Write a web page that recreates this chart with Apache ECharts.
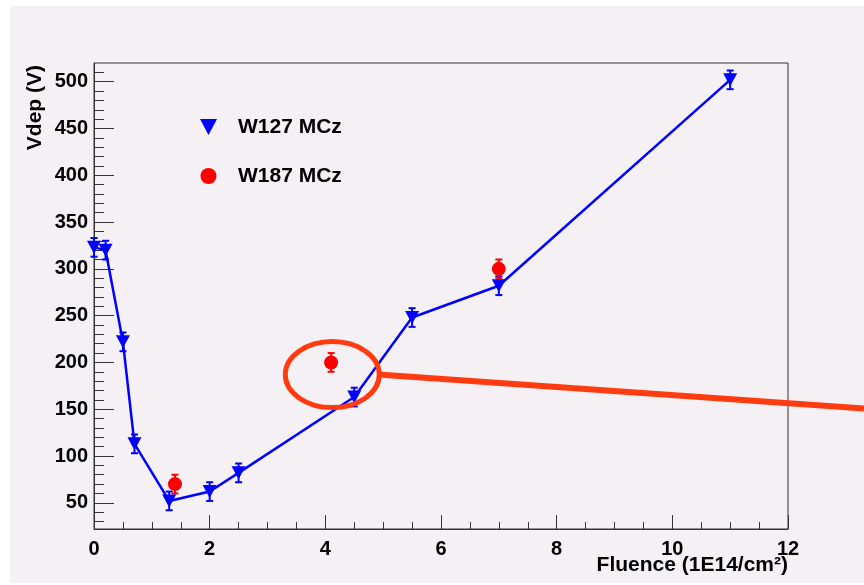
<!DOCTYPE html>
<html>
<head>
<meta charset="utf-8">
<script src="https://cdn.jsdelivr.net/npm/echarts@6/dist/echarts.min.js"></script>
<style>
html,body{margin:0;padding:0;background:#ffffff;}
#chart{width:864px;height:585px;}
</style>
</head>
<body>
<div id="chart"></div>
<script>
// ---- data ----
const w127X = [0, 0.2, 0.5, 0.7, 1.3, 2.0, 2.5, 4.5, 5.5, 7.0, 11.0];
const w127Y = [323, 320, 222, 113, 52, 62, 82, 163, 248, 282, 502];
const w127Err = [10, 10, 10, 10, 10, 10, 10, 10, 10, 10, 10];
const w187X = [1.4, 4.1, 7.0];
const w187Y = [70, 200, 300];
const w187Err = [10, 10, 10];
const yMajorTicks = [50, 100, 150, 200, 250, 300, 350, 400, 450, 500];
const yMinorTicks = [30, 40, 60, 70, 80, 90, 110, 120, 130, 140, 160, 170, 180, 190, 210, 220, 230, 240, 260, 270, 280, 290, 310, 320, 330, 340, 360, 370, 380, 390, 410, 420, 430, 440, 460, 470, 480, 490, 510];
const seriesNames = ['W127 MCz', 'W187 MCz'];
const xTitle = 'Fluence (1E14/cm\u00B2)';
const yTitle = 'Vdep (V)';
const annotCenter = [4.12, 187]; // data coords of the highlighted region

const FONT = "'Liberation Sans', Arial, Helvetica, sans-serif";
const BLUE = '#0000ff', RED = '#ff0000', FRAME = '#333333', ANNOT = '#ff3b0f';
const TITLE_SIZE = 21;

function pts(xs, ys) { return xs.map((x, i) => [x, ys[i]]); }
function errs(xs, ys, es) { return xs.map((x, i) => [x, ys[i] - es[i], ys[i] + es[i]]); }
function textWidth(str, size) {
  const ctx = document.createElement('canvas').getContext('2d');
  ctx.font = 'bold ' + size + 'px ' + FONT;
  return ctx.measureText(str).width;
}

function errRenderer(color) {
  return function (params, api) {
    const x = api.value(0), lo = api.value(1), hi = api.value(2);
    const p1 = api.coord([x, lo]), p2 = api.coord([x, hi]);
    const cw = 3.5;
    const st = { stroke: color, lineWidth: 2 };
    return {
      type: 'group',
      children: [
        { type: 'line', shape: { x1: p1[0], y1: p1[1], x2: p2[0], y2: p2[1] }, style: st },
        { type: 'line', shape: { x1: p1[0] - cw, y1: p1[1], x2: p1[0] + cw, y2: p1[1] }, style: st },
        { type: 'line', shape: { x1: p2[0] - cw, y1: p2[1], x2: p2[0] + cw, y2: p2[1] }, style: st }
      ]
    };
  };
}

const chart = echarts.init(document.getElementById('chart'), null, { renderer: 'canvas' });

const GRID_W = 864 - 94 - 76;
const xTitleW = textWidth(xTitle, TITLE_SIZE);
const yTitleW = textWidth(yTitle, TITLE_SIZE);

const option = {
  animation: false,
  backgroundColor: 'transparent',
  textStyle: { fontFamily: FONT },
  graphic: [
    { type: 'rect', id: 'bg', z: -100, silent: true,
      shape: { x: 10, y: 6, width: 854, height: 577 }, style: { fill: '#f4f0f4' } }
  ],
  grid: { left: 94, top: 63, right: 76, bottom: 56, show: true, containLabel: false,
          outerBoundsMode: 'none',
          borderColor: FRAME, borderWidth: 1, backgroundColor: 'transparent' },
  legend: {
    left: 200, top: 116, orient: 'vertical', padding: 0,
    itemWidth: 17, itemHeight: 16, itemGap: 27,
    data: [
      { name: seriesNames[0], icon: 'path://M0,0L10,0L5,9.4Z' },
      { name: seriesNames[1], icon: 'circle' }
    ],
    textStyle: { fontFamily: FONT, fontWeight: 'bold', fontSize: 21, color: '#000',
                 lineHeight: 22, padding: [0, 0, 0, 16] }
  },
  xAxis: {
    type: 'value', min: 0, max: 12, interval: 2,
    name: xTitle, nameLocation: 'end', nameGap: -xTitleW, nameMoveOverlap: false,
    nameTextStyle: { fontFamily: FONT, fontWeight: 'bold', fontSize: TITLE_SIZE, color: '#000',
                     verticalAlign: 'top', lineHeight: 21, padding: [26, 0, 0, 0] },
    axisLine: { show: true, lineStyle: { color: FRAME, width: 1 } },
    axisTick: { show: true, inside: true, length: 14, lineStyle: { color: FRAME, width: 1 } },
    minorTick: { show: true, splitNumber: 4, length: 7, lineStyle: { color: FRAME, width: 1 } },
    axisLabel: { fontFamily: FONT, fontWeight: 'bold', fontSize: 20, color: '#000', margin: 10 },
    splitLine: { show: false }
  },
  yAxis: [
    {
      type: 'value', min: 22, max: 520, position: 'left',
      name: yTitle, nameLocation: 'end', nameGap: -(2 + yTitleW), nameRotate: 90, nameMoveOverlap: false,
      nameTextStyle: { fontFamily: FONT, fontWeight: 'bold', fontSize: TITLE_SIZE, color: '#000',
                       verticalAlign: 'bottom', lineHeight: 21, padding: [0, 0, 48, 0] },
      axisLine: { show: true, lineStyle: { color: FRAME, width: 1 } },
      axisTick: { show: true, inside: true, length: 20, customValues: yMajorTicks,
                  lineStyle: { color: FRAME, width: 1 } },
      axisLabel: { customValues: yMajorTicks, fontFamily: FONT, fontWeight: 'bold', fontSize: 20,
                   color: '#000', margin: 6 },
      splitLine: { show: false }
    },
    {
      type: 'value', min: 22, max: 520, position: 'right', offset: -GRID_W,
      axisLine: { show: false },
      axisTick: { show: true, inside: false, length: 10, customValues: yMinorTicks,
                  lineStyle: { color: FRAME, width: 1 } },
      axisLabel: { show: false },
      splitLine: { show: false }
    }
  ],
  series: [
    {
      name: seriesNames[0], type: 'line', data: pts(w127X, w127Y),
      symbol: 'triangle', symbolRotate: 180, symbolSize: [14, 13],
      lineStyle: { color: BLUE, width: 2.5 }, itemStyle: { color: BLUE, opacity: 1 }, z: 5
    },
    {
      name: 'W127 err', type: 'custom', data: errs(w127X, w127Y, w127Err),
      encode: { x: 0, y: [1, 2] }, renderItem: errRenderer(BLUE), z: 4
    },
    {
      name: seriesNames[1], type: 'scatter', data: pts(w187X, w187Y),
      symbol: 'circle', symbolSize: 14, itemStyle: { color: RED, opacity: 1 }, z: 5
    },
    {
      name: 'W187 err', type: 'custom', data: errs(w187X, w187Y, w187Err),
      encode: { x: 0, y: [1, 2] }, renderItem: errRenderer(RED), z: 4
    }
  ]
};

chart.setOption(option);

// annotation overlay anchored at data coordinates
const c = chart.convertToPixel({ xAxisIndex: 0, yAxisIndex: 0 }, annotCenter);
const rx = 47, ry = 33;
chart.setOption({
  graphic: [
    { type: 'rect', id: 'bg', z: -100, silent: true,
      shape: { x: 10, y: 6, width: 854, height: 577 }, style: { fill: '#f4f0f4' } },
    { type: 'ellipse', id: 'ring', z: 100, silent: true,
      shape: { cx: c[0], cy: c[1], rx: rx, ry: ry },
      style: { fill: 'none', stroke: ANNOT, lineWidth: 5 } },
    { type: 'line', id: 'pointer', z: 100, silent: true,
      shape: { x1: c[0] + rx - 1, y1: c[1], x2: 864, y2: c[1] + 34 },
      style: { stroke: ANNOT, lineWidth: 6 } }
  ]
});
</script>
</body>
</html>
